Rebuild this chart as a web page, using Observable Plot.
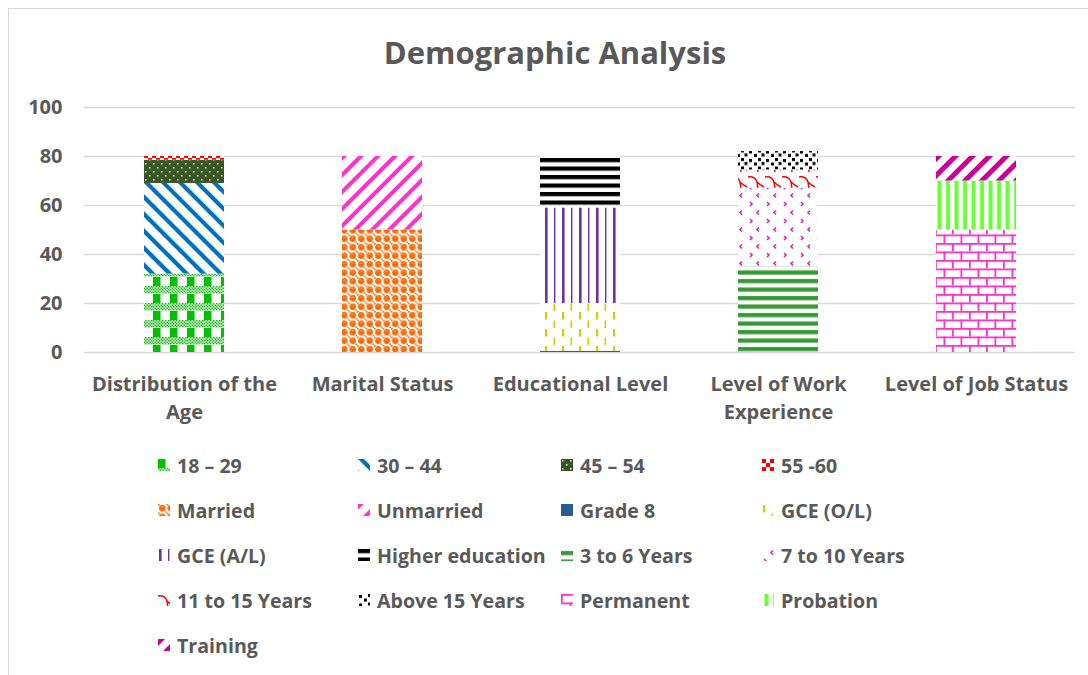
<!DOCTYPE html>
<html>
<head>
<meta charset="utf-8">
<script src="https://cdn.jsdelivr.net/npm/d3@7"></script>
<script src="https://cdn.jsdelivr.net/npm/@observablehq/plot@0.6"></script>
<style>
  html, body { margin: 0; padding: 0; background: #fff; }
  body { width: 1088px; height: 675px; position: relative; overflow: hidden; font-family: "Open Sans", Lato, sans-serif; }
  #frame { position: absolute; left: 8px; top: 8px; width: 1100px; height: 700px; border-left: 1px solid #D9D9D9; border-top: 1px solid #D9D9D9; }
  #title { position: absolute; left: 0; width: 1110px; top: 31px; text-align: center; font-size: 31px; font-weight: bold; color: #595959; line-height: 42px; }
  #chart { position: absolute; left: 0; top: 90px; }
  .lg { position: absolute; display: flex; align-items: center; height: 26px; font-size: 19.6px; font-weight: bold; color: #595959; white-space: nowrap; }
  .lg svg { width: 12px; height: 12px; margin-right: 7px; flex: none; }
</style>
</head>
<body>
<svg width="0" height="0" style="position:absolute">
  <defs>
    <pattern id="chkG" width="3" height="3" patternUnits="userSpaceOnUse"><rect width="1.5" height="1.5" fill="#00C000"/><rect x="1.5" y="1.5" width="1.5" height="1.5" fill="#00C000"/></pattern>
    <!-- 18 – 29 -->
    <pattern id="p0" width="17" height="17" patternUnits="userSpaceOnUse"><rect width="17" height="17" fill="#fff"/><rect x="0" y="0" width="7.5" height="9" fill="#00C000"/><rect x="0" y="9" width="17" height="7.5" fill="url(#chkG)"/></pattern>
    <!-- 30 – 44 -->
    <pattern id="p1" width="12" height="12" patternUnits="userSpaceOnUse" patternTransform="rotate(-45)"><rect width="12" height="12" fill="#fff"/><rect x="0" y="0" width="4.2" height="12" fill="#0070C0"/></pattern>
    <!-- 45 – 54 -->
    <pattern id="p2" width="8" height="8" patternUnits="userSpaceOnUse"><rect width="8" height="8" fill="#375623"/><rect x="1" y="1" width="1.5" height="1.5" fill="#fff"/><rect x="5" y="5" width="1.5" height="1.5" fill="#fff"/></pattern>
    <!-- 55 -60 -->
    <pattern id="p3" width="8" height="8" patternUnits="userSpaceOnUse"><rect width="8" height="8" fill="#fff"/><rect x="0" y="0" width="4" height="4" fill="#FF0000"/><rect x="4" y="4" width="4" height="4" fill="#FF0000"/></pattern>
    <!-- Married -->
    <pattern id="p4" width="8.5" height="8.5" patternUnits="userSpaceOnUse"><rect width="8.5" height="8.5" fill="#fff"/><circle cx="4.25" cy="4.25" r="3.2" fill="#FF6600"/><rect x="0" y="0" width="1.6" height="1.6" fill="#FF6600"/><rect x="7" y="7" width="1.5" height="1.5" fill="#FF6600"/><rect x="3.2" y="2.6" width="1.8" height="0.9" fill="#FFB080"/></pattern>
    <!-- Unmarried -->
    <pattern id="p5" width="12" height="12" patternUnits="userSpaceOnUse" patternTransform="rotate(45)"><rect width="12" height="12" fill="#fff"/><rect x="0" y="0" width="4" height="12" fill="#FF33CC"/></pattern>
    <!-- Grade 8 -->
    <pattern id="p6" width="4" height="4" patternUnits="userSpaceOnUse"><rect width="4" height="4" fill="#255E91"/></pattern>
    <!-- GCE (O/L) -->
    <pattern id="p7" width="17" height="17" patternUnits="userSpaceOnUse"><rect width="17" height="17" fill="#fff"/><rect x="1" y="1" width="2.2" height="7.5" fill="#D4CC00"/><rect x="9.5" y="9.5" width="1.6" height="7.5" fill="#D4CC00"/></pattern>
    <!-- GCE (A/L) -->
    <pattern id="p8" width="17" height="17" patternUnits="userSpaceOnUse"><rect width="17" height="17" fill="#fff"/><rect x="1" y="0" width="2.6" height="17" fill="#7030A0"/><rect x="10" y="0" width="1.4" height="17" fill="#7030A0"/></pattern>
    <!-- Higher education -->
    <pattern id="p9" width="8.5" height="8.5" patternUnits="userSpaceOnUse"><rect width="8.5" height="8.5" fill="#fff"/><rect x="0" y="0" width="8.5" height="4.2" fill="#000"/></pattern>
    <!-- 3 to 6 Years -->
    <pattern id="p10" width="8.5" height="8.5" patternUnits="userSpaceOnUse"><rect width="8.5" height="8.5" fill="#fff"/><rect x="0" y="2" width="8.5" height="4.2" fill="#339933"/></pattern>
    <!-- 7 to 10 Years -->
    <pattern id="p11" width="17" height="17" patternUnits="userSpaceOnUse"><rect width="17" height="17" fill="#fff"/><path d="M11,1.5 L9,3.5 L11,5.5" fill="none" stroke="#E020C0" stroke-width="1.6"/><path d="M2,10 L4,12 L2,14" fill="none" stroke="#E020C0" stroke-width="1.6"/></pattern>
    <!-- 11 to 15 Years -->
    <pattern id="p12" width="17" height="17" patternUnits="userSpaceOnUse"><rect width="17" height="17" fill="#fff"/><path d="M0,2 Q7,1 9,7 L10,14 M9,7 Q12,10 16,12" fill="none" stroke="#FF0000" stroke-width="1.5"/></pattern>
    <!-- Above 15 Years -->
    <pattern id="p13" width="17" height="8.5" patternUnits="userSpaceOnUse"><rect width="17" height="8.5" fill="#fff"/><rect x="1" y="1" width="3" height="3" fill="#000"/><rect x="6" y="4.5" width="3" height="3" fill="#000"/><rect x="10" y="0" width="3" height="3" fill="#000"/><rect x="13.5" y="4" width="3" height="3" fill="#000"/></pattern>
    <!-- Permanent -->
    <pattern id="p14" width="17" height="17" patternUnits="userSpaceOnUse"><rect width="17" height="17" fill="#fff"/><rect x="0" y="0" width="17" height="1.8" fill="#FF33CC"/><rect x="0" y="8.5" width="17" height="1.8" fill="#FF33CC"/><rect x="0" y="0" width="1.8" height="8.5" fill="#FF33CC"/><rect x="8.5" y="8.5" width="1.8" height="8.5" fill="#FF33CC"/></pattern>
    <!-- Probation -->
    <pattern id="p15" width="8.5" height="8.5" patternUnits="userSpaceOnUse"><rect width="8.5" height="8.5" fill="#fff"/><rect x="2.5" y="0" width="4" height="8.5" fill="#66FF33"/></pattern>
    <!-- Training -->
    <pattern id="p16" width="12" height="12" patternUnits="userSpaceOnUse" patternTransform="rotate(45)"><rect width="12" height="12" fill="#fff"/><rect x="0" y="0" width="5" height="12" fill="#CC0099"/></pattern>
  </defs>
</svg>
<div id="frame"></div>
<div id="title">Demographic Analysis</div>
<div id="chart"></div>
<div id="legend"></div>
<script>
const categories = ["Distribution of the Age", "Marital Status", "Educational Level", "Level of Work Experience", "Level of Job Status"];
const tickLabels = ["Distribution of the\nAge", "Marital Status", "Educational Level", "Level of Work\nExperience", "Level of Job Status"];
const ageGroups = ["18 – 29", "30 – 44", "45 – 54", "55 -60"];
const ageValues = [32, 37, 9.5, 1.5];
const maritalGroups = ["Married", "Unmarried"];
const maritalValues = [50, 30];
const educationGroups = ["Grade 8", "GCE (O/L)", "GCE (A/L)", "Higher education"];
const educationValues = [0.5, 19.5, 39, 21];
const experienceGroups = ["3 to 6 Years", "7 to 10 Years", "11 to 15 Years", "Above 15 Years"];
const experienceValues = [35, 32, 7.5, 7.5];
const jobGroups = ["Permanent", "Probation", "Training"];
const jobValues = [50, 20, 10];
const yTicks = [0, 20, 40, 60, 80, 100];

const groupLists = [ageGroups, maritalGroups, educationGroups, experienceGroups, jobGroups];
const valueLists = [ageValues, maritalValues, educationValues, experienceValues, jobValues];
const rows = [];
groupLists.forEach((groups, ci) => groups.forEach((g, gi) => rows.push({category: categories[ci], series: g, value: valueLists[ci][gi]})));
const seriesDomain = groupLists.flat();
const fills = seriesDomain.map((_, i) => `url(#p${i})`);

const chart = Plot.plot({
  width: 1088,
  height: 350,
  marginTop: 17,
  marginBottom: 88,
  marginLeft: 84,
  marginRight: 13,
  style: {fontFamily: "'Open Sans', Lato, sans-serif", color: "#595959", background: "transparent", overflow: "visible"},
  x: {domain: categories, paddingInner: 0.596, paddingOuter: 0.298, label: null},
  y: {domain: [0, 100], label: null},
  color: {domain: seriesDomain, range: fills},
  marks: [
    Plot.gridY(yTicks, {stroke: "#D9D9D9", strokeOpacity: 1, strokeWidth: 1.3}),
    Plot.barY(rows, {x: "category", y: "value", fill: "series"}),
    Plot.axisY(yTicks, {tickSize: 0, tickPadding: 22, fontSize: 20, fontWeight: "bold", label: null}),
    Plot.axisX({tickSize: 0, tickPadding: 19, fontSize: 20, fontWeight: "bold", lineHeight: 1.4, label: null,
      tickFormat: d => tickLabels[categories.indexOf(d)]})
  ]
});
document.getElementById("chart").appendChild(chart);

const colLeft = [158, 358, 561, 762];
const rowTop = [452, 497, 542, 587, 632];
const legend = document.getElementById("legend");
seriesDomain.forEach((s, i) => {
  const el = document.createElement("div");
  el.className = "lg";
  el.style.left = colLeft[i % 4] + "px";
  el.style.top = rowTop[Math.floor(i / 4)] + "px";
  el.innerHTML = `<svg viewBox="0 0 12 12"><rect width="12" height="12" fill="${fills[i]}"/></svg><span></span>`;
  el.querySelector("span").textContent = s;
  legend.appendChild(el);
});
</script>
</body>
</html>
